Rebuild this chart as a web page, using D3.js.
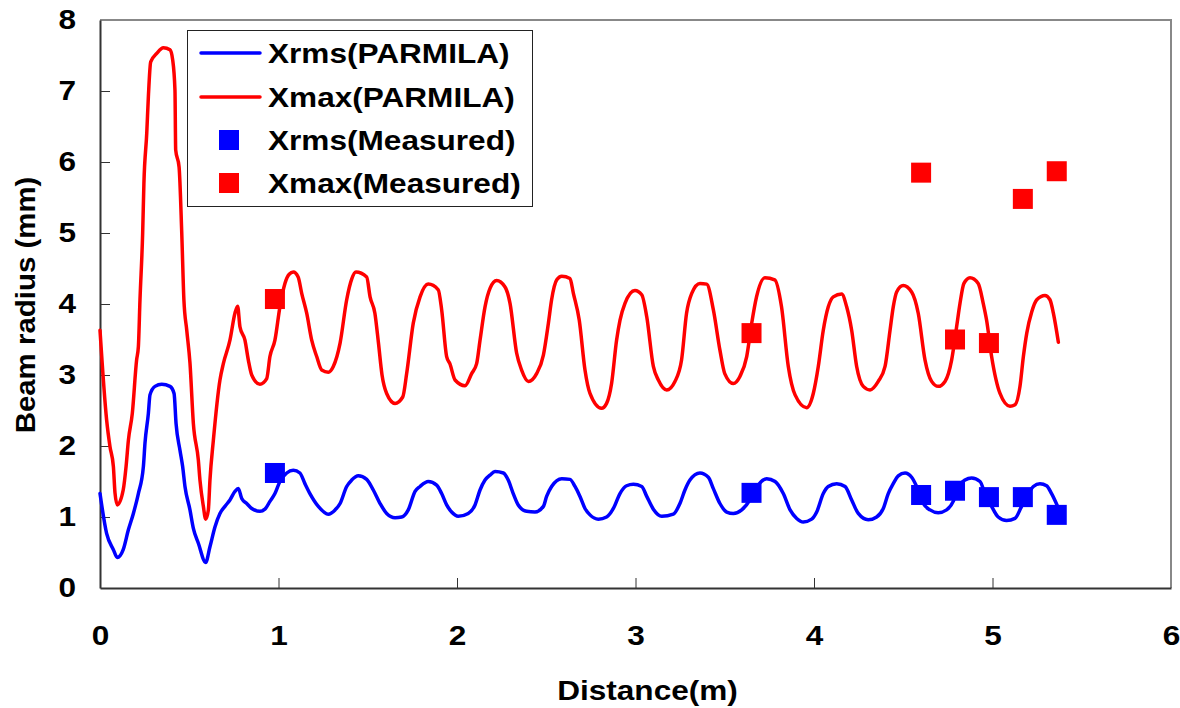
<!DOCTYPE html>
<html>
<head>
<meta charset="utf-8">
<script src="https://cdn.jsdelivr.net/npm/d3@7"></script>
<style>
  body { margin: 0; background: #fff; }
  #chart text { font-family: "Liberation Sans", Arial, sans-serif; font-weight: bold; fill: #000; }
</style>
</head>
<body>
<div id="chart"></div>
<script>
// PARMILA simulation, Xmax (m, mm)
const distMax = [0,0.037,0.056,0.075,0.084,0.097,0.13,0.146,0.159,0.181,0.205,0.215,0.224,0.239,0.246,0.262,0.271,0.284,0.318,0.355,0.392,0.407,0.42,0.424,0.443,0.458,0.47,0.486,0.504,0.523,0.551,0.56,0.579,0.592,0.607,0.616,0.635,0.672,0.691,0.728,0.756,0.771,0.784,0.812,0.831,0.85,0.896,0.934,0.952,0.98,1.008,1.036,1.06,1.083,1.11,1.13,1.158,1.186,1.214,1.242,1.279,1.307,1.345,1.382,1.41,1.434,1.494,1.513,1.54,1.56,1.58,1.606,1.653,1.696,1.718,1.755,1.793,1.839,1.895,1.914,1.942,1.96,1.989,2.045,2.082,2.11,2.129,2.157,2.185,2.222,2.269,2.297,2.334,2.362,2.4,2.446,2.484,2.512,2.53,2.559,2.587,2.633,2.652,2.685,2.717,2.745,2.81,2.838,2.866,2.894,2.913,2.941,2.997,3.035,3.063,3.1,3.128,3.175,3.221,3.258,3.286,3.315,3.361,3.399,3.436,3.473,3.5,3.548,3.585,3.623,3.651,3.678,3.725,3.78,3.818,3.856,3.894,3.959,3.996,4.024,4.052,4.08,4.108,4.155,4.183,4.211,4.239,4.276,4.314,4.36,4.398,4.426,4.444,4.463,4.5,4.547,4.584,4.622,4.659,4.696,4.734,4.771,4.799,4.818,4.84,4.874,4.92,4.948,4.967,4.995,5.042,5.098,5.126,5.154,5.173,5.192,5.22,5.248,5.294,5.322,5.341,5.369];
const xmaxParmila = [3.63,2.37,1.99,1.71,1.34,1.17,1.38,1.71,2.08,2.46,3.21,3.4,4.06,5.0,5.7,6.41,6.92,7.41,7.53,7.61,7.58,7.44,7.01,6.17,5.93,5.0,4.06,3.63,3.17,2.32,1.8,1.52,1.15,0.97,1.1,1.52,2.08,2.93,3.16,3.49,3.87,3.97,3.68,3.49,3.21,3.0,2.87,2.95,3.26,3.49,3.96,4.29,4.42,4.45,4.38,4.15,3.87,3.49,3.26,3.07,3.04,3.12,3.45,4.06,4.35,4.45,4.38,4.1,3.87,3.45,3.0,2.74,2.6,2.69,3.02,3.73,4.1,4.28,4.2,3.92,3.26,3.16,2.93,2.85,3.02,3.16,3.49,3.96,4.22,4.33,4.24,4.01,3.31,3.07,2.91,3.02,3.28,3.73,4.06,4.34,4.39,4.36,4.15,3.77,3.07,2.74,2.53,2.6,2.88,3.49,3.77,4.01,4.19,4.13,3.82,3.12,2.93,2.79,2.91,3.21,3.87,4.15,4.29,4.28,3.92,3.35,3.02,2.88,2.98,3.26,3.73,4.1,4.37,4.34,3.96,3.12,2.72,2.54,2.74,3.12,3.63,3.96,4.1,4.14,3.96,3.63,3.12,2.84,2.79,2.91,3.12,3.63,3.96,4.17,4.26,4.17,3.87,3.21,2.91,2.84,2.91,3.21,3.68,4.01,4.29,4.37,4.29,4.01,3.77,3.26,2.74,2.56,2.58,2.84,3.26,3.59,3.89,4.06,4.12,4.06,3.87,3.46];

// PARMILA simulation, Xrms
const distRms = [0,0.037,0.075,0.097,0.13,0.159,0.187,0.215,0.243,0.252,0.271,0.28,0.308,0.346,0.392,0.415,0.426,0.448,0.463,0.476,0.504,0.523,0.551,0.592,0.616,0.644,0.672,0.7,0.728,0.756,0.775,0.794,0.822,0.85,0.896,0.924,0.952,0.98,1.008,1.046,1.083,1.12,1.148,1.176,1.223,1.279,1.317,1.345,1.382,1.41,1.447,1.494,1.531,1.569,1.606,1.653,1.69,1.727,1.765,1.793,1.839,1.886,1.914,1.942,1.97,2.007,2.063,2.101,2.129,2.157,2.185,2.213,2.26,2.287,2.315,2.343,2.39,2.437,2.484,2.502,2.53,2.587,2.633,2.661,2.689,2.717,2.745,2.792,2.838,2.876,2.913,2.95,2.988,3.035,3.063,3.1,3.147,3.212,3.249,3.277,3.305,3.361,3.408,3.436,3.473,3.511,3.548,3.595,3.641,3.669,3.735,3.782,3.828,3.866,3.903,3.94,3.987,4.015,4.052,4.08,4.127,4.174,4.211,4.248,4.304,4.351,4.388,4.416,4.444,4.472,4.51,4.547,4.575,4.612,4.65,4.696,4.743,4.78,4.808,4.846,4.883,4.93,4.958,4.995,5.032,5.079,5.126,5.163,5.192,5.229,5.266,5.303,5.331,5.365];
const xrmsParmila = [1.33,0.77,0.54,0.43,0.54,0.82,1.05,1.33,1.71,2.04,2.46,2.72,2.84,2.87,2.84,2.74,2.32,1.94,1.71,1.43,1.1,0.84,0.63,0.36,0.58,0.86,1.05,1.15,1.24,1.36,1.4,1.26,1.19,1.12,1.08,1.11,1.22,1.33,1.5,1.62,1.66,1.62,1.47,1.33,1.15,1.04,1.1,1.19,1.43,1.52,1.58,1.53,1.38,1.19,1.05,0.99,1.0,1.1,1.36,1.43,1.5,1.45,1.33,1.17,1.07,1.01,1.05,1.17,1.38,1.52,1.59,1.64,1.62,1.52,1.33,1.17,1.08,1.07,1.15,1.29,1.43,1.54,1.53,1.43,1.29,1.12,1.03,0.97,1.0,1.12,1.33,1.44,1.46,1.43,1.29,1.11,1.01,1.04,1.19,1.38,1.52,1.62,1.56,1.4,1.19,1.07,1.05,1.1,1.24,1.38,1.54,1.5,1.33,1.1,0.98,0.93,0.97,1.07,1.33,1.43,1.47,1.43,1.24,1.05,0.96,1.0,1.12,1.33,1.47,1.58,1.62,1.56,1.43,1.19,1.1,1.06,1.1,1.22,1.43,1.52,1.55,1.5,1.33,1.15,1.0,0.95,0.98,1.15,1.29,1.43,1.47,1.44,1.33,1.15];

// measurements
const measDist = [0.98, 3.65, 4.6, 4.79, 4.98, 5.17, 5.36];
const xrmsMeasured = [1.62, 1.34, 1.31, 1.37, 1.28, 1.28, 1.03];
const xmaxMeasured = [4.07, 3.59, 5.85, 3.5, 3.45, 5.48, 5.87];

const xTicks = [0, 1, 2, 3, 4, 5, 6];
const yTicks = [0, 1, 2, 3, 4, 5, 6, 7, 8];
const legendNames = ["Xrms(PARMILA)", "Xmax(PARMILA)", "Xrms(Measured)", "Xmax(Measured)"];

const W = 1180, H = 708;
const margin = { top: 20, right: 9, bottom: 120, left: 100 };
const blue = "#0000ff", red = "#ff0000";
const stretch = 1.17;

const svg = d3.select("#chart").append("svg")
  .attr("width", W).attr("height", H);

const x = d3.scaleLinear().domain([0, 6]).range([margin.left, W - margin.right]);
const y = d3.scaleLinear().domain([0, 8]).range([H - margin.bottom, margin.top]);

// frame top/right
svg.append("path")
  .attr("d", `M${x(0)},${y(8)} H${x(6)} V${y(0)}`)
  .attr("fill", "none").attr("stroke", "#888").attr("stroke-width", 2);

// axes
const xAxis = svg.append("g")
  .attr("transform", `translate(0,${y(0)})`)
  .call(d3.axisBottom(x).tickValues(xTicks).tickSizeInner(-10).tickSizeOuter(0).tickFormat(d3.format("d")));
const yAxis = svg.append("g")
  .attr("transform", `translate(${x(0)},0)`)
  .call(d3.axisLeft(y).tickValues(yTicks).tickSizeInner(-10).tickSizeOuter(0).tickFormat(d3.format("d")));

[xAxis, yAxis].forEach(a => {
  a.select(".domain").attr("stroke", "#333").attr("stroke-width", 2);
  a.selectAll(".tick line").attr("stroke", "#333").attr("stroke-width", 1);
  a.selectAll(".tick text").style("font-size", "27px");
});
xAxis.selectAll(".tick").filter(d => d === 0 || d === 6).select("line").remove();
yAxis.selectAll(".tick").filter(d => d === 0 || d === 8).select("line").remove();
xAxis.selectAll(".tick text")
  .attr("y", 57).attr("dy", null)
  .attr("transform", `scale(${stretch},1)`);
yAxis.selectAll(".tick text")
  .attr("x", -24 / stretch).attr("dy", "0.32em")
  .attr("transform", `scale(${stretch},1)`);

// axis titles
svg.append("text")
  .attr("transform", `translate(${(x(0) + x(6)) / 2 + 12},700) scale(${stretch},1)`)
  .attr("text-anchor", "middle")
  .style("font-size", "27px")
  .text("Distance(m)");
svg.append("text")
  .attr("transform", `translate(35,305) rotate(-90) scale(1.09,1)`)
  .attr("text-anchor", "middle")
  .style("font-size", "27px")
  .text("Beam radius (mm)");

// simulation lines
const line = d3.line().x(d => x(d[0])).y(d => y(d[1])).curve(d3.curveMonotoneX);
svg.append("path")
  .datum(d3.zip(distRms, xrmsParmila))
  .attr("d", line)
  .attr("fill", "none").attr("stroke", blue).attr("stroke-width", 3.5)
  .attr("stroke-linejoin", "round").attr("stroke-linecap", "round");
svg.append("path")
  .datum(d3.zip(distMax, xmaxParmila))
  .attr("d", line)
  .attr("fill", "none").attr("stroke", red).attr("stroke-width", 3.5)
  .attr("stroke-linejoin", "round").attr("stroke-linecap", "round");

// measured points
const sq = 20;
svg.append("g").selectAll("rect")
  .data(d3.zip(measDist, xrmsMeasured))
  .join("rect")
  .attr("x", d => x(d[0]) - sq / 2).attr("y", d => y(d[1]) - sq / 2)
  .attr("width", sq).attr("height", sq).attr("fill", blue);
svg.append("g").selectAll("rect")
  .data(d3.zip(measDist, xmaxMeasured))
  .join("rect")
  .attr("x", d => x(d[0]) - sq / 2).attr("y", d => y(d[1]) - sq / 2)
  .attr("width", sq).attr("height", sq).attr("fill", red);

// legend
const legend = svg.append("g");
legend.append("rect")
  .attr("x", 187.5).attr("y", 30.5).attr("width", 345).attr("height", 176)
  .attr("fill", "#fff").attr("stroke", "#222").attr("stroke-width", 1);
const rowY = [53, 97, 140, 183];
const kinds = [["line", blue], ["line", red], ["square", blue], ["square", red]];
legendNames.forEach((name, i) => {
  const [kind, color] = kinds[i];
  if (kind === "line") {
    legend.append("line")
      .attr("x1", 201).attr("x2", 260).attr("y1", rowY[i]).attr("y2", rowY[i])
      .attr("stroke", color).attr("stroke-width", 3.5).attr("stroke-linecap", "round");
  } else {
    legend.append("rect")
      .attr("x", 219).attr("y", rowY[i] - 10).attr("width", 20).attr("height", 20)
      .attr("fill", color);
  }
  legend.append("text")
    .attr("transform", `translate(268,${rowY[i]}) scale(${stretch},1)`)
    .attr("dy", "0.36em")
    .style("font-size", "27px")
    .text(name);
});
</script>
</body>
</html>
